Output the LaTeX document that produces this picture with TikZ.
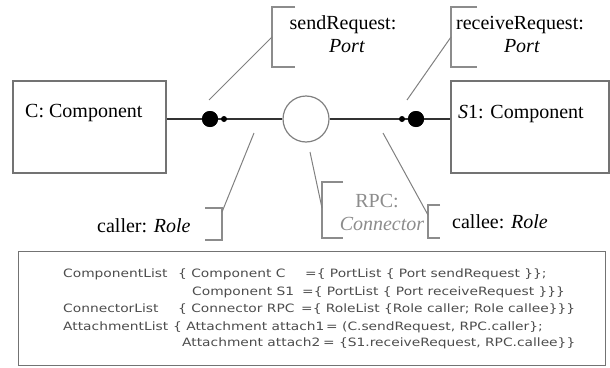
\documentclass[tikz,border=0pt]{standalone}
\usepackage{fontspec}
\setmainfont{Liberation Serif}
\newfontfamily\codefont[FakeStretch=1.2]{DejaVu Sans}
\usetikzlibrary{positioning}

\begin{document}
\begin{tikzpicture}[x=1pt,y=-1pt,
    comp/.style={draw=black!55,line width=1.6pt,anchor=north west,inner sep=0pt,
                 minimum height=92pt},
    lbl/.style={font=\fontsize{20}{22}\selectfont,inner sep=0pt,anchor=base},
    conn/.style={draw=black!80,line width=2.6pt},
    bigdot/.style={circle,fill=black,inner sep=0pt,minimum size=16pt},
    smalldot/.style={circle,fill=black,inner sep=0pt,minimum size=6pt},
    brk/.style={draw=black!45,line width=1.4pt},
    leader/.style={draw=black!50,line width=1pt},
    code/.style={font=\codefont\fontsize{11.5}{14}\selectfont,text=black!70,
                 inner sep=0pt,anchor=base west}]
  \useasboundingbox (0,0) rectangle (610,367);

  % components
  \node[comp,minimum width=153pt] (C) at (12,80) {};
  \node[comp,minimum width=158pt] (S1) at (450,80) {};
  \node[lbl,anchor=base west] (Ctext) at (25,117) {C: Component};
  \node[lbl,anchor=base west] (S1text) at (458,118) {\textit{S}1: Component};

  % connector
  \node[circle,draw=black!50,line width=1.2pt,minimum size=46pt,inner sep=0pt] (rpc) at (306,119) {};
  \node[bigdot] (sendPort) at (210,119) {};
  \node[bigdot] (recvPort) at (416,119) {};
  \draw[conn] (C.east |- sendPort) -- (rpc.west);
  \draw[conn] (rpc.east) -- (S1.west |- recvPort);
  \node[bigdot] at (sendPort) {};
  \node[bigdot] at (recvPort) {};
  \node[smalldot] (caller) at (224,119) {};
  \node[smalldot] (callee) at (402,119) {};

  % port labels
  \draw[brk] (295,7) -| (272,67) -- (295,67);
  \node[lbl] (sendName) at (343,29) {sendRequest:};
  \node[lbl] (sendType) at (347,52) {\textit{Port}};
  \coordinate (sendB) at (272,37);
  \coordinate (sendEnd) at (209,100);
  \draw[leader] (sendB) -- (sendEnd);

  \draw[brk] (477,7) -| (451,67) -- (477,67);
  \node[lbl] (recvName) at (520,29) {receiveRequest:};
  \node[lbl] (recvType) at (522,52) {\textit{Port}};
  \coordinate (recvB) at (451,37);
  \coordinate (recvEnd) at (407,100);
  \draw[leader] (recvB) -- (recvEnd);

  % role labels
  \draw[brk] (205,208) -| (222,240) -- (205,240);
  \node[lbl,anchor=base west] (callerName) at (97,232) {caller: \textit{Role}};
  \coordinate (callerB) at (222,212);
  \coordinate (callerEnd) at (254,133);
  \draw[leader] (callerB) -- (callerEnd);

  \draw[brk] (440,205) -| (428,238) -- (440,238);
  \node[lbl,anchor=base west] (calleeName) at (452,228) {callee: \textit{Role}};
  \coordinate (calleeB) at (428,215);
  \coordinate (calleeEnd) at (383,133);
  \draw[leader] (calleeB) -- (calleeEnd);

  \draw[brk] (343,182) -| (322,238) -- (343,238);
  \node[lbl,text=black!45] (rpcName) at (377,207) {RPC:};
  \node[lbl,text=black!45] (rpcType) at (382,230) {\textit{Connector}};
  \coordinate (rpcB) at (322,208);
  \coordinate (rpcEnd) at (310,152);
  \draw[leader] (rpcB) -- (rpcEnd);

  % textual description
  \node[draw=black!55,line width=1.2pt,anchor=north west,inner sep=0pt,
        minimum width=587pt,minimum height=114pt] (desc) at (18,251) {};
  \node[code] (l1a) at (63,277) {ComponentList};
  \node[code] (l1b) at (178,277) {\{ Component C};
  \node[code] (l1c) at (305,277) {=\{ PortList \{ Port sendRequest \}\};};
  \node[code] (l2b) at (192,295) {Component S1};
  \node[code] (l2c) at (302,295) {=\{ PortList \{ Port receiveRequest \}\}\}};
  \node[code] (l3a) at (63,312) {ConnectorList};
  \node[code] (l3b) at (178,312) {\{ Connector RPC};
  \node[code] (l3c) at (301,312) {=\{ RoleList \{Role caller; Role callee\}\}\}};
  \node[code] (l4a) at (63,330) {AttachmentList};
  \node[code] (l4b) at (173,330) {\{ Attachment attach1};
  \node[code] (l4c) at (326,330) {= (C.sendRequest, RPC.caller\};};
  \node[code] (l5b) at (182,346) {Attachment attach2};
  \node[code] (l5c) at (323,346) {= \{S1.receiveRequest, RPC.callee\}\}};
\end{tikzpicture}
\end{document}
